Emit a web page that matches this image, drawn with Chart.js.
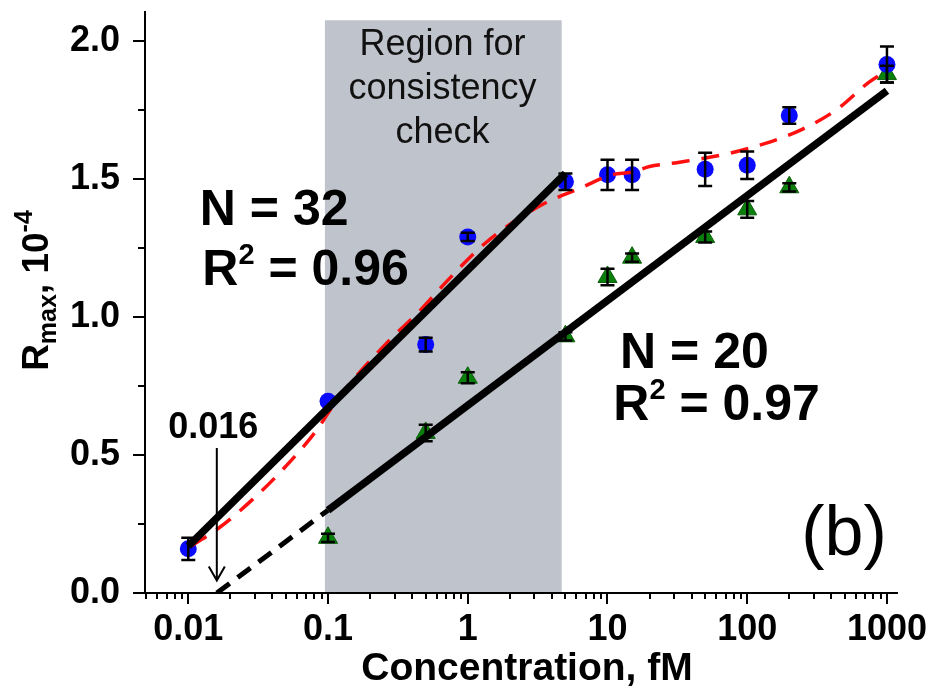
<!DOCTYPE html>
<html>
<head>
<meta charset="utf-8">
<script src="https://cdn.jsdelivr.net/npm/chart.js@4.4.1/dist/chart.umd.min.js"></script>
<style>
  html, body { margin: 0; padding: 0; background: #fff; }
  canvas { display: block; }
</style>
</head>
<body>
<canvas id="chart" width="935" height="692"></canvas>
<script>
// measured points (blue circles)
const blueX = [0.01, 0.1, 0.5, 1, 5, 10, 15, 50, 100, 200, 1000];
const blueY = [0.16, 0.695, 0.90, 1.29, 1.49, 1.515, 1.515, 1.535, 1.55, 1.73, 1.915];
const blueErr = [0.04, 0, 0.025, 0.015, 0.03, 0.055, 0.055, 0.06, 0.05, 0.03, 0.065];

// measured points (green triangles)
const greenX = [0.1, 0.5, 1, 5, 10, 15, 50, 100, 200, 1000];
const greenY = [0.20, 0.58, 0.78, 0.93, 1.145, 1.215, 1.29, 1.39, 1.47, 1.88];
const greenErr = [0.015, 0.03, 0.02, 0.015, 0.03, 0.015, 0.02, 0.03, 0.015, 0.03];

// red dashed model curve
const curveX = [0.0105, 0.017, 0.029, 0.048, 0.083, 0.116, 0.28, 0.43, 0.71, 1.16, 1.7, 3.5, 6.6, 10.7, 15, 20, 32, 70, 137, 247, 433, 741, 912];
const curveY = [0.17, 0.24, 0.34, 0.45, 0.59, 0.70, 0.92, 1.01, 1.13, 1.24, 1.31, 1.41, 1.47, 1.515, 1.525, 1.545, 1.56, 1.59, 1.63, 1.68, 1.75, 1.85, 1.88];

// linear fits (straight on log x)
const fit32X = [0.01, 5];
const fit32Y = [0.17, 1.52];
const fit20X = [0.1, 1000];
const fit20Y = [0.30, 1.82];
const extX = [0.016, 0.1];
const extY = [0.0, 0.30];

// shaded region and arrow
const regionX = [0.095, 4.7];
const regionY = [0, 2.075];
const arrowX = 0.016;
const arrowY = [0.525, 0.045];

// axes
const xTicks = [0.01, 0.1, 1, 10, 100, 1000];
const xTickLabels = ["0.01", "0.1", "1", "10", "100", "1000"];
const yTicks = [0, 0.5, 1, 1.5, 2];
const yMinorTicks = [0.25, 0.75, 1.25, 1.75];

const FONT = "'Liberation Sans', Arial, sans-serif";
const pts = (xs, ys) => xs.map((x, i) => ({ x: x, y: ys[i] }));

function richText(ctx, parts, x, y, align) {
  let total = 0;
  parts.forEach(p => { ctx.font = p.font; p.w = ctx.measureText(p.t).width; total += p.w; });
  let cx = align === "center" ? x - total / 2 : x;
  parts.forEach(p => {
    ctx.font = p.font;
    ctx.fillText(p.t, cx, y + (p.dy || 0));
    cx += p.w;
  });
}

const extras = {
  id: "extras",
  beforeDatasetsDraw(chart) {
    const { ctx, scales: { x, y } } = chart;
    ctx.save();
    ctx.fillStyle = "rgb(191,195,203)";
    const x0 = x.getPixelForValue(regionX[0]), x1 = x.getPixelForValue(regionX[1]);
    const y0 = y.getPixelForValue(regionY[1]), y1 = y.getPixelForValue(regionY[0]) - 1;
    ctx.fillRect(x0, y0, x1 - x0, y1 - y0);

    // minor ticks
    ctx.strokeStyle = "#000";
    ctx.lineWidth = 2;
    ctx.beginPath();
    for (let e = -3; e <= 3; e++) {
      for (let k = 2; k <= 9; k++) {
        const v = k * Math.pow(10, e);
        if (v < x.min || v > x.max) continue;
        const px = Math.round(x.getPixelForValue(v));
        ctx.moveTo(px, y.bottom);
        ctx.lineTo(px, y.bottom + 6);
      }
    }
    yMinorTicks.forEach(v => {
      const py = Math.round(y.getPixelForValue(v));
      ctx.moveTo(x.left, py);
      ctx.lineTo(x.left - 7, py);
    });
    ctx.stroke();
    ctx.restore();
  },
  afterDatasetsDraw(chart) {
    const { ctx, scales: { x, y } } = chart;
    ctx.save();
    ctx.strokeStyle = "#000";
    ctx.lineWidth = 2.5;
    const bars = (xs, ys, es) => {
      xs.forEach((xv, i) => {
        if (!es[i]) return;
        const px = x.getPixelForValue(xv);
        const top = y.getPixelForValue(ys[i] + es[i]);
        const bot = y.getPixelForValue(ys[i] - es[i]);
        ctx.beginPath();
        ctx.moveTo(px, top); ctx.lineTo(px, bot);
        ctx.moveTo(px - 7, top); ctx.lineTo(px + 7, top);
        ctx.moveTo(px - 7, bot); ctx.lineTo(px + 7, bot);
        ctx.stroke();
      });
    };
    bars(greenX, greenY, greenErr);
    bars(blueX, blueY, blueErr);

    // arrow to 0.016
    const ax = x.getPixelForValue(arrowX);
    const ay0 = y.getPixelForValue(arrowY[0]);
    const ay1 = y.getPixelForValue(arrowY[1]);
    ctx.lineWidth = 2;
    ctx.beginPath();
    ctx.moveTo(ax, ay0); ctx.lineTo(ax, ay1);
    ctx.moveTo(ax - 8, ay1 - 14); ctx.lineTo(ax, ay1); ctx.lineTo(ax + 8, ay1 - 14);
    ctx.stroke();
    ctx.restore();
  },
  afterDraw(chart) {
    const { ctx, scales: { x, y } } = chart;
    ctx.save();
    ctx.fillStyle = "#000";
    ctx.textBaseline = "alphabetic";

    // region label
    ctx.fillStyle = "#111";
    ctx.textAlign = "center";
    ctx.font = "36px " + FONT;
    const rx = x.getPixelForValue(0.66);
    ctx.fillText("Region for", rx, y.getPixelForValue(1.95));
    ctx.fillText("consistency", rx, y.getPixelForValue(1.79));
    ctx.fillText("check", rx, y.getPixelForValue(1.63));

    ctx.fillStyle = "#000";
    ctx.textAlign = "left";
    const big = "bold 50px " + FONT, sup = "bold 29px " + FONT;
    ctx.font = big;
    ctx.fillText("N = 32", x.getPixelForValue(0.0121), y.getPixelForValue(1.333));
    richText(ctx, [{ t: "R", font: big }, { t: "2", font: sup, dy: -21 }, { t: " = 0.96", font: big }],
      x.getPixelForValue(0.0126), y.getPixelForValue(1.116), "left");
    ctx.font = big;
    ctx.fillText("N = 20", x.getPixelForValue(12.3), y.getPixelForValue(0.815));
    richText(ctx, [{ t: "R", font: big }, { t: "2", font: sup, dy: -21 }, { t: " = 0.97", font: big }],
      x.getPixelForValue(11.0), y.getPixelForValue(0.627), "left");

    ctx.textAlign = "center";
    ctx.font = "70px " + FONT;
    ctx.fillText("(b)", x.getPixelForValue(493), y.getPixelForValue(0.138));
    ctx.font = "bold 36px " + FONT;
    ctx.fillText("0.016", x.getPixelForValue(0.0151), y.getPixelForValue(0.56));

    // axis titles
    ctx.font = "bold 39px " + FONT;
    ctx.fillText("Concentration, fM", (x.left + x.right) / 2 + 6, 680);
    ctx.textAlign = "left";
    ctx.translate(48, (y.top + y.bottom) / 2 - 12);
    ctx.rotate(-Math.PI / 2);
    const t1 = "bold 37px " + FONT, t2 = "bold 25px " + FONT;
    richText(ctx, [{ t: "R", font: t1 }, { t: "max", font: t2, dy: 8 }, { t: ", 10", font: t1 }, { t: "-4", font: t2, dy: -16 }], 0, 0, "center");
    ctx.restore();
  }
};

new Chart(document.getElementById("chart"), {
  type: "scatter",
  data: {
    datasets: [
      { type: "line", data: pts(fit32X, fit32Y), borderColor: "#000", borderWidth: 7.5, pointRadius: 0, fill: false },
      { type: "line", data: pts(fit20X, fit20Y), borderColor: "#000", borderWidth: 7.5, pointRadius: 0, fill: false },
      { type: "line", data: pts(extX, extY), borderColor: "#000", borderWidth: 5, borderDash: [16, 10], pointRadius: 0, fill: false },
      { type: "line", data: pts(curveX, curveY), borderColor: "#ff1010", borderWidth: 3.5, borderDash: [18, 12], pointRadius: 0, fill: false, cubicInterpolationMode: "monotone" },
      { data: pts(blueX, blueY), pointStyle: "circle", pointRadius: 8.5, backgroundColor: "#0a0aff", borderColor: "#0a0aff", borderWidth: 0 },
      { data: pts(greenX, greenY), pointStyle: "triangle", pointRadius: 11, backgroundColor: "#0b7f0b", borderColor: "#0b5f0b", borderWidth: 1 }
    ]
  },
  options: {
    responsive: false,
    animation: false,
    devicePixelRatio: 1,
    layout: { autoPadding: false, padding: { left: 0, top: 12, right: 38, bottom: 0 } },
    plugins: { legend: { display: false }, tooltip: { enabled: false } },
    scales: {
      x: {
        type: "logarithmic",
        position: "bottom",
        min: 0.0049,
        max: 1180,
        afterBuildTicks: s => { s.ticks = xTicks.map(v => ({ value: v })); },
        afterFit: s => { s.height = 99; s.paddingLeft = 0; s.paddingRight = 0; },
        ticks: {
          callback: (v, i) => xTickLabels[i],
          font: { family: FONT, size: 36, weight: "bold" },
          color: "#000",
          padding: 4,
          maxRotation: 0,
          autoSkip: false
        },
        grid: { drawOnChartArea: false, color: "#000", lineWidth: 2, tickLength: 11 },
        border: { color: "#000", width: 2 }
      },
      y: {
        type: "linear",
        min: 0,
        max: 2.105,
        afterBuildTicks: s => { s.ticks = yTicks.map(v => ({ value: v })); },
        afterFit: s => { s.width = 145; s.paddingTop = 0; s.paddingBottom = 0; },
        ticks: {
          callback: v => v.toFixed(1),
          font: { family: FONT, size: 36, weight: "bold" },
          color: "#000",
          padding: 13
        },
        grid: { drawOnChartArea: false, color: "#000", lineWidth: 2, tickLength: 12 },
        border: { color: "#000", width: 2 }
      }
    }
  },
  plugins: [extras]
});
</script>
</body>
</html>
